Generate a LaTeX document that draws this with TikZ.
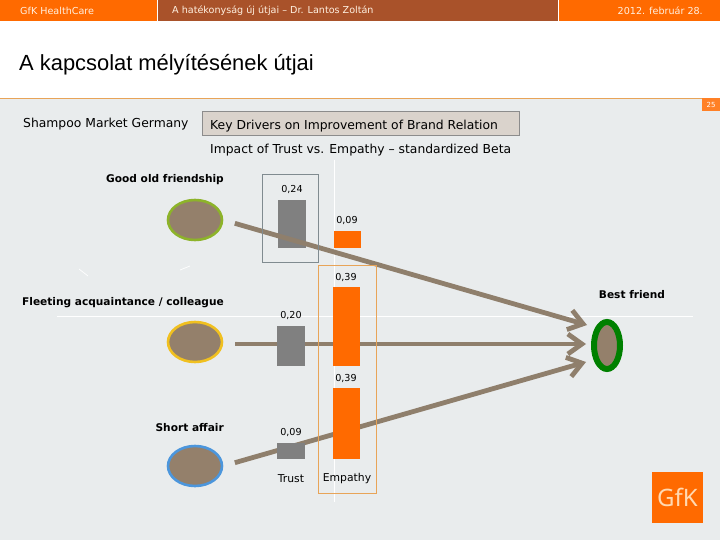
\documentclass[tikz,border=0pt]{standalone}
\usepackage{fontspec}
\setmainfont{Liberation Sans}
\newfontfamily\bodyfont{DejaVu Sans}
\newfontfamily\logofont{Noto Sans}
\usetikzlibrary{arrows.meta, shapes.geometric}
\definecolor{pagebg}{HTML}{E9ECED}
\definecolor{gfkorange}{HTML}{FF6A00}
\definecolor{headbrown}{HTML}{A9522A}
\definecolor{linkbrown}{HTML}{8F7F6C}
\definecolor{blobbrown}{HTML}{94806B}
\definecolor{barleft}{HTML}{808080}
\definecolor{keybox}{HTML}{DAD3CC}
\definecolor{ringgood}{HTML}{8DB32A}
\definecolor{ringfleeting}{HTML}{F0C020}
\definecolor{ringshort}{HTML}{4C96DC}
\definecolor{framegrey}{HTML}{808B90}
\definecolor{framesoft}{HTML}{E8A458}
\tikzset{
	headtext/.style={text=white!88!orange, font=\bodyfont\fontsize{9.6}{11}\selectfont, inner sep=0pt},
	bodytext/.style={font=\bodyfont\fontsize{12.35}{14}\selectfont, inner sep=0pt},
	axistext/.style={font=\bodyfont\fontsize{10.8}{13}\selectfont, inner sep=0pt},
	grouptext/.style={font=\bodyfont\bfseries\fontsize{10.6}{12}\selectfont, inner sep=0pt, anchor=east},
	valuetext/.style={font=\bodyfont\fontsize{9.6}{11}\selectfont, inner sep=0pt},
	blob/.style={draw, ellipse, line width=2.6pt, fill=blobbrown, minimum width=54pt, minimum height=40pt, inner sep=0pt},
	greybar/.style={rectangle, fill=barleft, minimum width=28pt, inner sep=0pt},
	orangebar/.style={rectangle, fill=gfkorange, minimum width=27pt, inner sep=0pt},
	link/.style={draw=linkbrown, line width=4.8pt, shorten <=12pt, -{Straight Barb[length=14pt, width=20pt]}}
}
\begin{document}
\begin{tikzpicture}[x=1pt, y=-1pt]
	\useasboundingbox (0,0) rectangle (720,540);
	\fill[white] (0,0) rectangle (720,540);
	\fill[pagebg] (0,99) rectangle (720,540);
	\fill[gfkorange] (0,0) rectangle (720,21);
	\fill[headbrown] (158,0) rectangle (558,21);
	\draw[white, line width=0.7pt] (157.5,0) -- (157.5,21);
	\draw[white, line width=0.7pt] (558,0) -- (558,21);
	\draw[framesoft, line width=1pt] (0,99) -- (720,99);

	\draw[white, line width=0.7pt] (334,160) -- (334,502);
	\draw[white, line width=0.7pt] (57,316) -- (693,316);
	\draw[white, line width=0.7pt] (79,269) -- (88,276);
	\draw[white, line width=0.7pt] (180,270) -- (190,266);

	\node[headtext, anchor=west] (unit) at (20,11) {GfK HealthCare};
	\node[headtext, anchor=west] (talk) at (172,11) {A hatékonyság új útjai – Dr. Lantos Zoltán};
	\node[headtext, anchor=east] (date) at (703,11) {2012. február 28.};
	\node[font=\fontsize{21.9}{25}\selectfont, inner sep=0pt, anchor=west] (title) at (19,65) {A kapcsolat mélyítésének útjai};
	\node[rectangle, fill=gfkorange!85!white, text=white, font=\bodyfont\fontsize{7}{8}\selectfont, minimum width=18pt, minimum height=13pt, inner sep=0pt] (page) at (711,105) {25};

	\node[bodytext, anchor=west] (market) at (23,124) {Shampoo Market Germany};
	\node[draw=black!45, fill=keybox, line width=0.7pt, minimum width=317pt, minimum height=24pt, inner sep=0pt] (keydrivers) at (360.5,123.5) {};
	\node[bodytext, anchor=west] (keytext) at (210,126) {Key Drivers on Improvement of Brand Relation};
	\node[bodytext, anchor=west] (impact) at (210,150) {Impact of Trust vs. Empathy – standardized Beta};

	\node[grouptext] (goodtext) at (224,180) {Good old friendship};
	\node[grouptext] (fleetingtext) at (224,303) {Fleeting acquaintance / colleague};
	\node[grouptext] (shorttext) at (224,428) {Short affair};
	\node[grouptext, anchor=center] (besttext) at (632,295) {Best friend};

	\node[blob, draw=ringgood] (good) at (195,220) {};
	\node[blob, draw=ringfleeting] (fleeting) at (195,342) {};
	\node[blob, draw=ringshort] (short) at (195,466) {};
	\node[draw=green!50!black, ellipse, line width=6pt, fill=blobbrown, minimum width=26pt, minimum height=47pt, inner sep=0pt] (best) at (607,345.5) {};

	\coordinate (tiptop) at (587,325);
	\coordinate (tipmid) at (586,344);
	\coordinate (tipbot) at (586,362);
	\draw[link] (fleeting.east |- tipmid) -- (tipmid);
	\draw[link] (short.east) -- (tipbot);

	\node[greybar, minimum height=48pt] (trustgood) at (292,224) {};
	\node[greybar, minimum height=40pt] (trustfleeting) at (291,346) {};
	\node[greybar, minimum height=16pt] (trustshort) at (291,451) {};
	\node[orangebar, minimum height=17pt] (empathygood) at (347.5,239.5) {};
	\node[orangebar, minimum height=79pt] (empathyfleeting) at (346.5,326.5) {};
	\node[orangebar, minimum height=71pt] (empathyshort) at (346.5,423.5) {};

	\draw[link] (good.east) -- (tiptop);

	\node[draw=framegrey, line width=0.7pt, minimum width=56pt, minimum height=88pt, inner sep=0pt] (trustframe) at (290,218) {};
	\node[draw=framesoft, line width=0.8pt, minimum width=58pt, minimum height=228pt, inner sep=0pt] (empathyframe) at (347,379) {};

	\node[valuetext] (v1) at (292,189) {0,24};
	\node[valuetext] (v2) at (347,220) {0,09};
	\node[valuetext] (v3) at (346,277) {0,39};
	\node[valuetext] (v4) at (291,315) {0,20};
	\node[valuetext] (v5) at (346,378) {0,39};
	\node[valuetext] (v6) at (291,432) {0,09};
	\node[axistext] (trusttext) at (291,479) {Trust};
	\node[axistext] (empathytext) at (347,479) {Empathy};

	\node[rectangle, fill=gfkorange, text=orange!30!white, font=\logofont\fontsize{24}{26}\selectfont, minimum size=51pt, inner sep=0pt] (logo) at (677.5,497.5) {GfK};
\end{tikzpicture}
\end{document}
